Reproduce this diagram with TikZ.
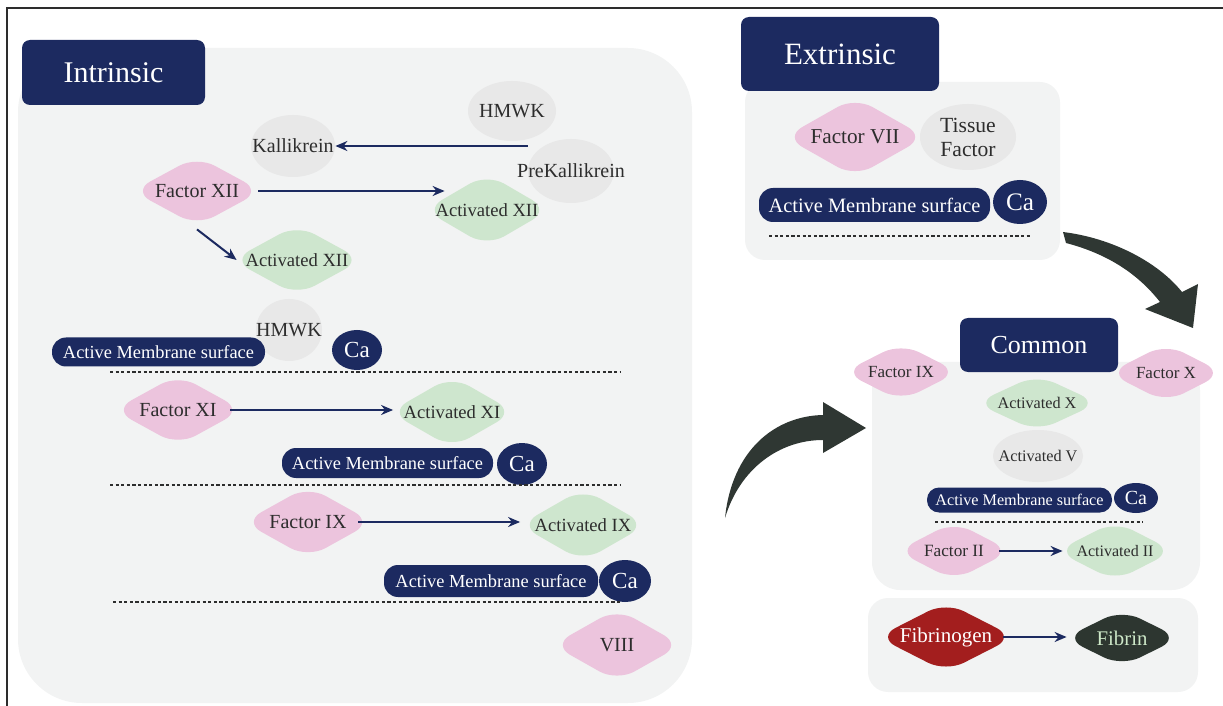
\documentclass[tikz,border=0pt]{standalone}
\usepackage{fontspec}
\setmainfont{Liberation Serif}
\usetikzlibrary{shapes.geometric,arrows.meta}
\definecolor{navy}{RGB}{28,42,96}
\definecolor{panelgray}{RGB}{242,243,243}
\definecolor{pinkc}{RGB}{236,196,221}
\definecolor{greenc}{RGB}{206,230,206}
\definecolor{ovalgray}{RGB}{232,232,232}
\definecolor{darkarrow}{RGB}{47,55,51}
\definecolor{bloodred}{RGB}{163,30,30}
\definecolor{fibrinc}{RGB}{45,54,48}
\definecolor{fibrintext}{RGB}{205,232,200}
\definecolor{inkc}{RGB}{45,45,45}
\newcommand{\fs}[1]{\fontsize{#1}{1.2em}\selectfont}

\begin{document}
\begin{tikzpicture}[x=0.5pt,y=-0.5pt,
  narrow/.style={execute at begin node={\hbox to 0pt\bgroup\hss}, execute at end node={\hss\egroup}},
  blob/.style={diamond, rounded corners=10pt, inner sep=0pt, text=inkc, narrow, font=\fs{10}},
  pinkblob/.style={blob, fill=pinkc},
  greenblob/.style={blob, fill=greenc, font=\fs{9.3}},
  ovalbase/.style={ellipse, fill=ovalgray, inner sep=0pt, text=inkc, font=\fs{10}},
  oval/.style={ovalbase, narrow},
  heading/.style={fill=navy, text=white, rounded corners=4pt},
  membrane/.style={fill=navy, text=white, rounded corners=7pt, inner sep=0pt, font=\fs{9.2}},
  ca/.style={ellipse, fill=navy, text=white, inner sep=0pt, font=\fs{11.5}},
  conv/.style={-{Stealth[length=6pt,width=5pt]}, navy, line width=1pt},
  divider/.style={inkc, line width=0.6pt, dash pattern=on 1.6pt off 1.2pt}]
  \useasboundingbox (0,0) rectangle (1223,706);
  \draw[inkc, line width=0.8pt] (7,706) -- (7,8) -- (1223,8);
  % panels
  \fill[panelgray, rounded corners=32pt] (18,48) rectangle (692,703);
  \fill[panelgray, rounded corners=10pt] (745,82) rectangle (1060,260);
  \fill[panelgray, rounded corners=14pt] (872,362) rectangle (1200,590);
  \fill[panelgray, rounded corners=10pt] (868,598) rectangle (1198,692);
  % big arrows
  \fill[darkarrow] (1063,232) .. controls (1112,238) and (1158,262) .. (1182,292) -- (1198,284)
    -- (1193,328) -- (1145,309) -- (1160,302) .. controls (1138,274) and (1108,254) .. (1066,243) -- cycle;
  \fill[darkarrow] (725,518) .. controls (732,450) and (775,416) .. (823,415) -- (823,402)
    -- (866,428) -- (823,453) -- (823,440) .. controls (780,440) and (740,468) .. (725,518) -- cycle;

  % intrinsic
  \node[heading, minimum width=91.5pt, minimum height=32.5pt, font=\fs{15}] (intr) at (113.5,72.5) {Intrinsic};
  \node[oval, minimum width=44pt, minimum height=30pt] (hmwka) at (512,111) {HMWK};
  \node[oval, minimum width=42pt, minimum height=31pt] (kal) at (293,146) {Kallikrein};
  \node[oval, minimum width=43pt, minimum height=32pt] (prekal) at (571,171) {PreKallikrein};
  \node[pinkblob, minimum width=64.5pt, minimum height=35pt] (f12) at (197,191) {Factor XII};
  \node[greenblob, minimum width=62.5pt, minimum height=36.5pt] (a12a) at (487,210) {Activated XII};
  \node[greenblob, minimum width=65pt, minimum height=35.5pt] (a12b) at (297,260) {Activated XII};
  \node[oval, minimum width=33pt, minimum height=31pt] (hmwkb) at (289,330) {HMWK};
  \node[membrane, minimum width=106.5pt, minimum height=14.5pt] (ams1) at (158.5,352) {Active Membrane surface};
  \node[ca, minimum width=25pt, minimum height=20pt] (ca1) at (357,350) {Ca};
  \draw[divider] (110,372) -- (620,372);
  \node[pinkblob, minimum width=64.5pt, minimum height=35.5pt] (f11) at (178,410) {Factor XI};
  \node[greenblob, minimum width=62.5pt, minimum height=36pt] (a11) at (452,412) {Activated XI};
  \node[membrane, minimum width=105.5pt, minimum height=15pt] (ams2) at (387.5,463) {Active Membrane surface};
  \node[ca, minimum width=25pt, minimum height=21pt] (ca2) at (522,464) {Ca};
  \draw[divider] (110,485) -- (620,485);
  \node[pinkblob, minimum width=64.5pt, minimum height=36pt] (f9) at (308,522) {Factor IX};
  \node[greenblob, minimum width=63.5pt, minimum height=36.5pt] (a9) at (583,525) {Activated IX};
  \node[membrane, minimum width=107pt, minimum height=16pt] (ams3) at (491,581) {Active Membrane surface};
  \node[ca, minimum width=26pt, minimum height=21pt] (ca3) at (625,581) {Ca};
  \draw[divider] (113,602) -- (622,602);
  \node[pinkblob, minimum width=64.5pt, minimum height=36.5pt] (f8) at (617,645) {VIII};

  \draw[conv] (prekal.west |- kal) -- (kal);
  \draw[conv] ([xshift=-1.75pt]f12.east) -- ([xshift=10.25pt]a12a.west |- f12.east);
  \draw[conv] ([yshift=-1.5pt]f12.south) -- ([xshift=2.5pt]a12b.west);
  \draw[conv] ([xshift=-6.25pt]f11.east) -- ([xshift=2pt]f11.east -| a11.west);
  \draw[conv] ([xshift=-7.25pt]f9.east) -- ([xshift=0.5pt]f9.east -| a9.west);

  % extrinsic
  \node[heading, minimum width=99pt, minimum height=37pt, font=\fs{15.5}] (extr) at (840,54) {Extrinsic};
  \node[pinkblob, minimum width=70.5pt, minimum height=40pt, font=\fs{10.6}] (f7) at (855,137) {Factor VII};
  \node[ovalbase, minimum width=48pt, minimum height=33pt, align=center, font=\fs{10.8}] (tf) at (968,137) {Tissue\\Factor};
  \node[membrane, minimum width=115.5pt, minimum height=17pt, font=\fs{10.2}] (ams4) at (874.5,205) {Active Membrane surface};
  \node[ca, minimum width=27pt, minimum height=22pt, font=\fs{12.6}] (ca4) at (1020,202) {Ca};
  \draw[divider] (769,236) -- (1030,236);

  % common
  \node[heading, minimum width=79pt, minimum height=27pt, font=\fs{13}] (comm) at (1039,345) {Common};
  \node[pinkblob, minimum width=57.5pt, minimum height=29pt, font=\fs{8.5}] (f9c) at (901,372) {Factor IX};
  \node[pinkblob, minimum width=57.5pt, minimum height=29.5pt, font=\fs{8.5}] (f10) at (1166,373) {Factor X};
  \node[greenblob, minimum width=61.5pt, minimum height=28.5pt, font=\fs{8.1}] (a10) at (1037,403) {Activated X};
  \node[oval, minimum width=45pt, minimum height=26pt, font=\fs{8.1}] (a5) at (1038,456) {Activated V};
  \node[membrane, minimum width=92.5pt, minimum height=12.5pt, rounded corners=6pt, font=\fs{8.1}] (ams5) at (1019.5,500) {Active Membrane surface};
  \node[ca, minimum width=22pt, minimum height=15pt, font=\fs{10}] (ca5) at (1136,498) {Ca};
  \draw[divider] (935,522) -- (1143,522);
  \node[pinkblob, minimum width=57pt, minimum height=29.5pt, font=\fs{8.6}] (f2) at (954,551) {Factor II};
  \node[greenblob, minimum width=58.5pt, minimum height=30pt, font=\fs{8}] (a2) at (1115,551) {Activated II};
  \draw[conv] ([xshift=-6pt]f2.east) -- ([xshift=3.25pt]f2.east -| a2.west);

  % fibrin
  \node[blob, fill=bloodred, text=white, minimum width=68.5pt, minimum height=35pt, font=\fs{10.5}] (fgen) at (946,637) {Fibrinogen};
  \node[blob, fill=fibrinc, text=fibrintext, minimum width=57.5pt, minimum height=28.5pt, font=\fs{10.4}] (fib) at (1122,638) {Fibrin};
  \draw[conv] ([xshift=-5.75pt]fgen.east) -- ([xshift=1.25pt]fgen.east -| fib.west);
\end{tikzpicture}
\end{document}
